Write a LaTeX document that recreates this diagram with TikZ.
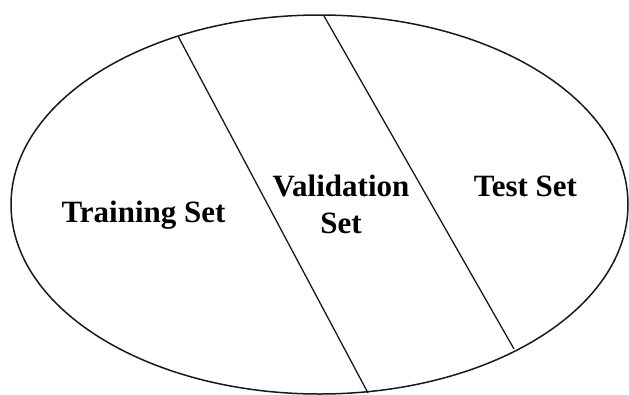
\documentclass[tikz,border=0pt]{standalone}
\usepackage{fontspec}
\setmainfont{Liberation Serif}
\begin{document}
\begin{tikzpicture}[x=1pt,y=-1pt,
  divider/.style={draw=black!90,line width=1.3pt},
  outline/.style={draw=black!90,line width=1.5pt},
  setlabel/.style={font=\bfseries\fontsize{31}{37}\selectfont,inner sep=0pt,anchor=base,align=center}]
\useasboundingbox (0,0) rectangle (629,394);
\draw[outline] (319.5,204.5) ellipse [x radius=308.5, y radius=189.5];
\coordinate (d1a) at (178.5,37);
\coordinate (d1b) at (368,393);
\coordinate (d2a) at (324,16);
\coordinate (d2b) at (514,349);
\draw[divider] (d1a) -- (d1b);
\draw[divider] (d2a) -- (d2b);
\node[setlabel] (train) at (143.5,222) {Training Set};
\node[setlabel] (valid) at (341,233) {Validation\\Set};
\node[setlabel] (test) at (525.5,196) {Test Set};
\end{tikzpicture}
\end{document}
